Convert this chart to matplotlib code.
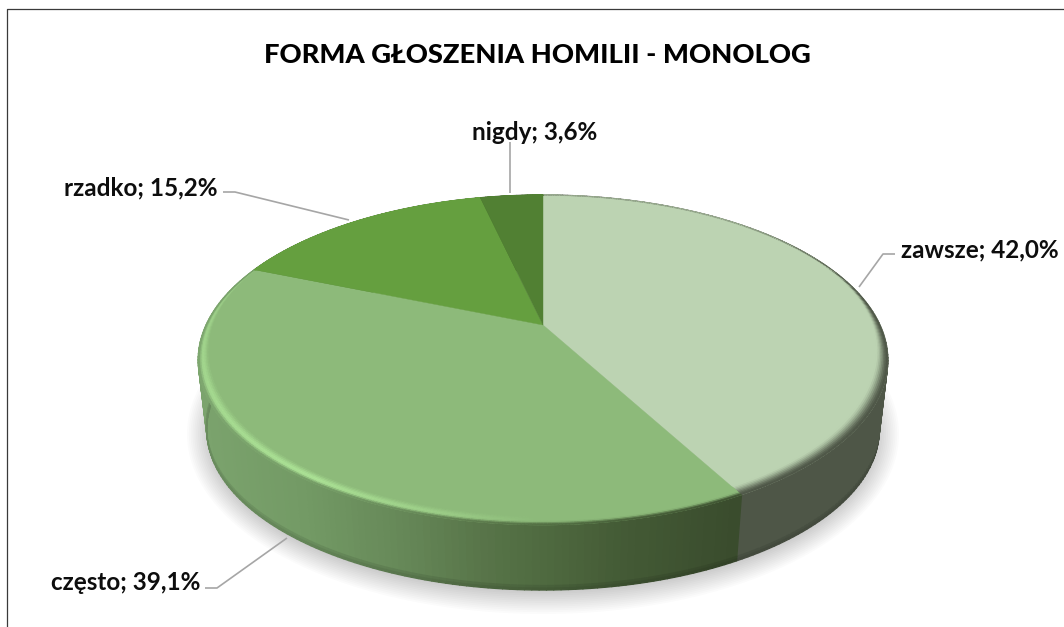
import numpy as np
import matplotlib
matplotlib.use("Agg")
import matplotlib.pyplot as plt
from matplotlib.collections import PolyCollection
from matplotlib.colors import to_rgb

categories = ["zawsze", "często", "rzadko", "nigdy"]
values = [42.0, 39.1, 15.2, 3.6]
face_colors = ["#BCD3B2", "#8DBA7A", "#659F3F", "#518033"]
title = "FORMA GŁOSZENIA HOMILII - MONOLOG"

plt.rcParams["font.family"] = ["Lato", "DejaVu Sans"]

# geometria "3D" w pikselach obrazu
CX, APEX_Y = 543, 325
A, B, K = 157.6, 337.0, 0.212
TOP_CY, BOT_CY = 360, 430
SCALE_X, SCALE_Y = 0.975, 0.97


def top_point(theta, r=1.0):
    x = r * np.sin(theta)
    y = r * np.cos(theta)
    d = 1 + K * y
    return CX + B * x / d, APEX_Y - A * y / d


def bottom_point(theta):
    sx, sy = top_point(theta)
    return CX + (sx - CX) * SCALE_X, BOT_CY + (sy - TOP_CY) * SCALE_Y


def smooth(s):
    s = np.clip(s, 0, 1)
    return s * s * (3 - 2 * s)


def hex_rgb(names):
    return np.array([to_rgb(n) for n in names])


# kolory sciany czesto wedlug pozycji x
WALL_X = [200, 300, 400, 480, 543, 620, 733]
WALL_C = hex_rgb(["#7BA36D", "#739A65", "#668858", "#587549", "#4F6A40", "#445B36", "#3A4C2D"])
WALL_ZAWSZE = np.array(to_rgb("#4E5647"))
# jasna krawedz czesto (kat w stopniach -> sila)
HL_ANG = [151, 180, 196, 215, 250, 272, 292]
HL_VAL = [0.0, 0.0, 0.55, 1.0, 0.75, 0.6, 0.25]
HL_COLOR = np.array(to_rgb("#ADE497"))


def wall_color(slice_i, theta):
    if slice_i == 1:
        x = top_point(theta)[0]
        return np.array([np.interp(x, WALL_X, WALL_C[:, c]) for c in range(3)])
    if slice_i == 0:
        return WALL_ZAWSZE
    return np.array(to_rgb(face_colors[slice_i])) * 0.6


def rim_color(slice_i, theta, u):
    face = np.array(to_rgb(face_colors[slice_i]))
    wall = wall_color(slice_i, theta)
    if slice_i == 1:
        # przejscie twarz -> jasny pasek -> sciana
        h = np.interp(np.degrees(theta), HL_ANG, HL_VAL)
        mid = face + (HL_COLOR - face) * h
        if u < 0.62:
            return face + (mid - face) * smooth(u / 0.62)
        return mid + (wall - mid) * smooth((u - 0.62) / 0.38)
    if slice_i == 0:
        # z tylu krawedz tylko szara, nie czarna
        u = u * (0.45 + 0.55 * smooth((np.degrees(theta) - 35) / 55))
        return face + (wall - face) * smooth(u)
    return face


shares = np.array(values) / np.sum(values)
edges = np.concatenate([[0], np.cumsum(shares)]) * 2 * np.pi

fig = plt.figure(figsize=(10.64, 6.27), dpi=100)
ax = fig.add_axes([0, 0, 1, 1])
ax.set_xlim(0, 1064)
ax.set_ylim(627, 0)
ax.axis("off")

# cien pod tortem
t = np.linspace(0, 2 * np.pi, 361)
for grow in np.linspace(20, -4, 14):
    ax.fill(CX + (336 + grow) * np.cos(t), 434 + (160 + grow) * np.sin(t),
            color="#000000", alpha=0.014, lw=0, zorder=1)

# sciana boczna
polys, cols = [], []
rows = [0.0, 0.93, 0.97, 1.0]
for i in range(len(values)):
    n = max(int(np.degrees(edges[i + 1] - edges[i])), 2)
    th = np.linspace(edges[i], edges[i + 1], n + 1)
    for a, b in zip(th[:-1], th[1:]):
        xa0, ya0 = top_point(a)
        xb0, yb0 = top_point(b)
        xa1, ya1 = bottom_point(a)
        xb1, yb1 = bottom_point(b)
        c = wall_color(i, (a + b) / 2)
        for v0, v1 in zip(rows[:-1], rows[1:]):
            polys.append([
                (xa0 + (xa1 - xa0) * v0, ya0 + (ya1 - ya0) * v0),
                (xb0 + (xb1 - xb0) * v0, yb0 + (yb1 - yb0) * v0),
                (xb0 + (xb1 - xb0) * v1, yb0 + (yb1 - yb0) * v1),
                (xa0 + (xa1 - xa0) * v1, ya0 + (ya1 - ya0) * v1),
            ])
            cols.append(c * (1 - 0.14 * smooth((v1 - 0.93) / 0.07)))
ax.add_collection(PolyCollection(polys, facecolors=cols, edgecolors=cols, linewidths=0.9, zorder=2))

# wierzch: wycinki
for i, color in enumerate(face_colors):
    th = np.linspace(edges[i], edges[i + 1], 200)
    sx, sy = top_point(th)
    ax.fill(np.r_[CX, sx], np.r_[APEX_Y, sy], color=color, lw=0.3, zorder=3)

# skos na krawedzi
polys, cols = [], []
u_steps = np.linspace(0, 1, 9)
for i in range(len(values)):
    n = max(int(np.degrees(edges[i + 1] - edges[i]) * 2), 2)
    th = np.linspace(edges[i], edges[i + 1], n + 1)
    for a, b in zip(th[:-1], th[1:]):
        mid = (a + b) / 2
        width = 0.004 + 0.036 * smooth(-np.cos(mid) + 0.5)
        for u0, u1 in zip(u_steps[:-1], u_steps[1:]):
            ra0, ra1 = 1 - width * (1 - u0), 1 - width * (1 - u1)
            polys.append([top_point(a, ra0), top_point(b, ra0), top_point(b, ra1), top_point(a, ra1)])
            cols.append(rim_color(i, mid, (u0 + u1) / 2))
ax.add_collection(PolyCollection(polys, facecolors=cols, edgecolors=cols, linewidths=0.5, zorder=4))

# linie odniesienia
leaders = [
    ([895, 883, 859], [254, 254, 287]),
    ([205, 217, 287], [588, 588, 538]),
    ([223, 235, 349], [192, 192, 220]),
    ([510, 510], [142, 193]),
]
for lx, ly in leaders:
    ax.plot(lx, ly, color="#A6A6A6", lw=1.2, zorder=5, solid_capstyle="butt")

# ramka (tylko lewa i gorna widoczna)
ax.plot([7, 7, 1064], [627, 9, 9], color="#3A3A3A", lw=0.9, zorder=6)

ax.text(537, 55, title, ha="center", va="center", fontsize=19.75, fontweight="black", color="black", zorder=7)

label_pos = [(901, 250, "left"), (200, 582, "right"), (218, 188, "right"), (597, 132, "right")]
for name, val, (x, y, ha) in zip(categories, values, label_pos):
    label = f"{name}; {val:.1f}%".replace(".", ",")
    ax.text(x, y, label, ha=ha, va="center", fontsize=17.5, fontweight="bold", color="#0D0D0D", zorder=7)

fig.savefig("out.png", dpi=100, facecolor="white")
